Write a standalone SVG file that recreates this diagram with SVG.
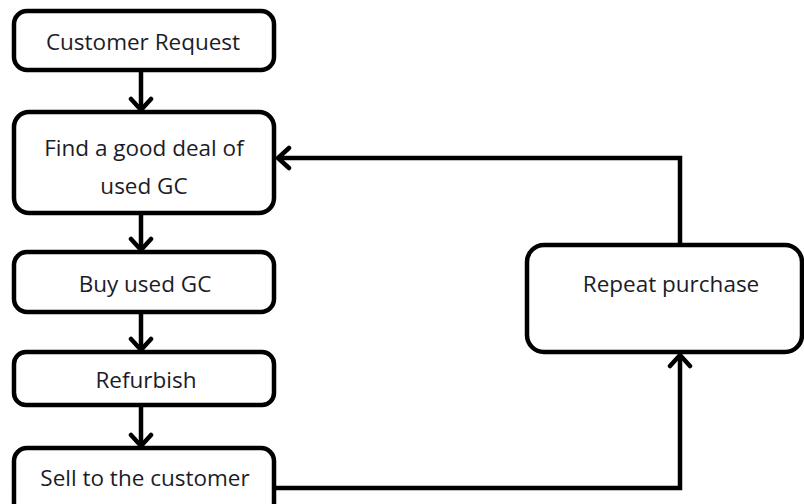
<svg xmlns="http://www.w3.org/2000/svg" width="804" height="504" viewBox="0 0 804 504">
<defs>
<style>
.box{fill:#ffffff;stroke:#000000;stroke-width:4.5}
.lbl{font-family:"Open Sans","Liberation Sans",sans-serif;font-size:22.5px;fill:#1c1c28;text-anchor:middle}
.conn{fill:none;stroke:#000000;stroke-width:4.5}
</style>
<marker id="chev" markerUnits="userSpaceOnUse" viewBox="-14 -14 28 28" markerWidth="28" markerHeight="28" refX="0" refY="0" orient="auto">
<path d="M-11,-10 L0,0 L-11,10" fill="none" stroke="#000" stroke-width="4.5" stroke-linecap="round" stroke-linejoin="miter"/>
</marker>
</defs>
<rect width="804" height="504" fill="#ffffff"/>
<g id="connectors">
<path class="conn" d="M141,70 V110" marker-end="url(#chev)"/>
<path class="conn" d="M141,213 V250" marker-end="url(#chev)"/>
<path class="conn" d="M141,312 V350" marker-end="url(#chev)"/>
<path class="conn" d="M141,405 V446" marker-end="url(#chev)"/>
<path class="conn" d="M274,488 H680 V355" marker-end="url(#chev)"/>
<path class="conn" d="M680,245 V158 H278" marker-end="url(#chev)"/>
</g>
<g id="customer-request">
<rect class="box" x="14" y="11" width="260" height="59" rx="13"/>
<text class="lbl" x="143" y="50">Customer Request</text>
</g>
<g id="find-deal">
<rect class="box" x="14" y="112" width="260" height="101" rx="15"/>
<text class="lbl" x="144" y="156">Find a good deal of</text>
<text class="lbl" x="144" y="194">used GC</text>
</g>
<g id="buy-used">
<rect class="box" x="14" y="252" width="260" height="60" rx="13"/>
<text class="lbl" x="145" y="292">Buy used GC</text>
</g>
<g id="refurbish">
<rect class="box" x="14" y="352" width="260" height="53" rx="12"/>
<text class="lbl" x="146" y="388">Refurbish</text>
</g>
<g id="sell">
<rect class="box" x="14" y="448" width="260" height="70" rx="13"/>
<text class="lbl" x="145" y="486">Sell to the customer</text>
</g>
<g id="repeat-purchase">
<rect class="box" x="527" y="245" width="275" height="107" rx="17"/>
<text class="lbl" x="671" y="292">Repeat purchase</text>
</g>
</svg>
